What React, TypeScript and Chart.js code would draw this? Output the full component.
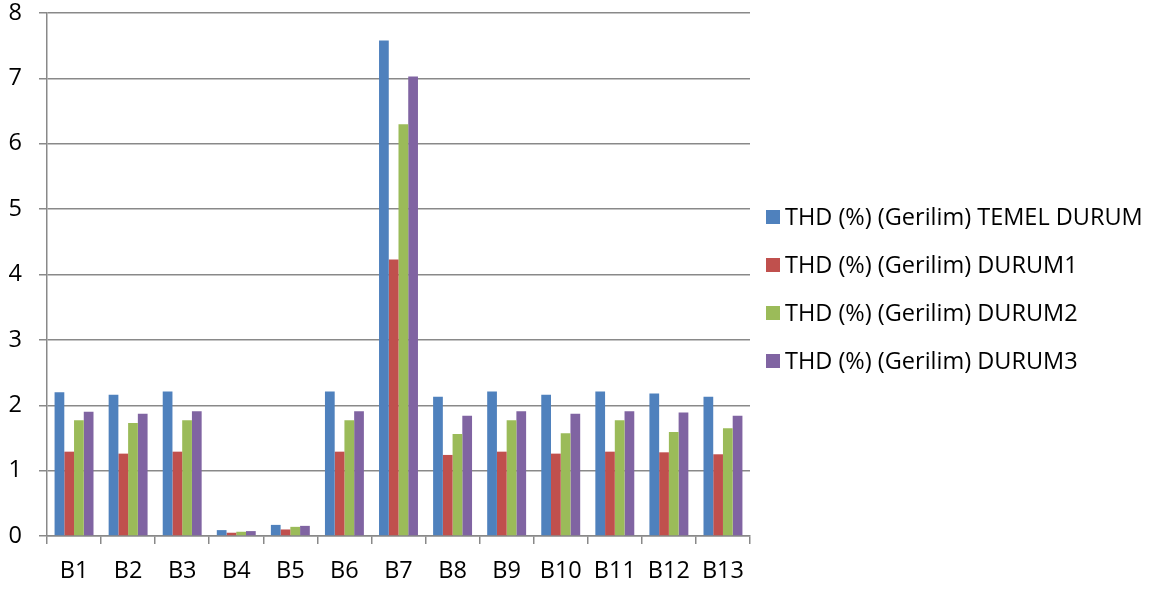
import React, { useEffect, useRef } from "react";
import { Chart, registerables } from "chart.js";

Chart.register(...registerables);

const categories = ["B1", "B2", "B3", "B4", "B5", "B6", "B7", "B8", "B9", "B10", "B11", "B12", "B13"];
const seriesNames = [
  "THD (%) (Gerilim) TEMEL DURUM",
  "THD (%) (Gerilim) DURUM1",
  "THD (%) (Gerilim) DURUM2",
  "THD (%) (Gerilim) DURUM3",
];
const temelDurum = [2.2, 2.16, 2.21, 0.09, 0.17, 2.21, 7.58, 2.13, 2.21, 2.16, 2.21, 2.18, 2.13];
const durum1 = [1.29, 1.26, 1.29, 0.05, 0.1, 1.29, 4.23, 1.24, 1.29, 1.26, 1.29, 1.28, 1.25];
const durum2 = [1.77, 1.73, 1.77, 0.065, 0.14, 1.77, 6.3, 1.56, 1.77, 1.57, 1.77, 1.59, 1.65];
const durum3 = [1.9, 1.87, 1.91, 0.075, 0.155, 1.91, 7.03, 1.84, 1.91, 1.87, 1.91, 1.89, 1.84];
const colors = ["#4F81BD", "#C0504D", "#9BBB59", "#8064A2"];

const FONT = "'Open Sans', 'Liberation Sans', sans-serif";
const FONT_SIZE = 23.5;
const GRID = "#898989";

const sideLegend = {
  id: "sideLegend",
  afterDraw(chart: any) {
    const { ctx, chartArea } = chart;
    const box = 14;
    const rowGap = 48;
    const x0 = chartArea.right + 16;
    const n = chart.data.datasets.length;
    const yMid = chartArea.top + 276;
    const yStart = yMid - ((n - 1) * rowGap) / 2;
    ctx.save();
    ctx.font = `${FONT_SIZE}px ${FONT}`;
    ctx.textBaseline = "middle";
    ctx.textAlign = "left";
    chart.data.datasets.forEach((ds: any, i: number) => {
      const y = yStart + i * rowGap;
      ctx.fillStyle = ds.backgroundColor;
      ctx.fillRect(x0, y - box / 2, box, box);
      ctx.fillStyle = "#000";
      ctx.fillText(ds.label, x0 + box + 5, y + 1);
    });
    ctx.restore();
  },
};

export default function App() {
  const ref = useRef<HTMLCanvasElement | null>(null);
  useEffect(() => {
    if (!ref.current) return;
    const values = [temelDurum, durum1, durum2, durum3];
    const chart = new Chart(ref.current, {
      type: "bar",
      data: {
        labels: categories,
        datasets: values.map((v, i) => ({
          label: seriesNames[i],
          data: v,
          backgroundColor: colors[i],
          borderWidth: 0,
          categoryPercentage: 0.72,
          barPercentage: 1,
        })),
      },
      options: {
        animation: false,
        responsive: false,
        maintainAspectRatio: false,
        layout: { padding: { top: 0, left: 8.5, right: 412, bottom: 5 } },
        plugins: {
          tooltip: { enabled: false },
          legend: { display: false },
        },
        scales: {
          x: {
            offset: true,
            afterFit: (s: any) => {
              s.paddingLeft = 0;
              s.paddingRight = 0;
              s.height = 49;
            },
            grid: {
              offset: true,
              drawOnChartArea: false,
              drawTicks: true,
              tickLength: 8,
              color: GRID,
              lineWidth: 1.5,
            },
            border: { color: GRID, width: 1.5 },
            ticks: { color: "#000", font: { family: FONT, size: FONT_SIZE }, padding: 13, maxRotation: 0 },
          },
          y: {
            min: 0,
            max: 8,
            afterFit: (s: any) => {
              s.paddingTop = 13;
              s.paddingBottom = 0;
              s.width = 38.5;
            },
            grid: { color: GRID, lineWidth: 1.5, tickLength: 8, drawTicks: true },
            border: { color: GRID, width: 1.5 },
            ticks: { stepSize: 1, color: "#000", font: { family: FONT, size: FONT_SIZE }, padding: 17 },
          },
        },
      },
      plugins: [sideLegend],
    });
    return () => chart.destroy();
  }, []);
  return (
    <div style={{ position: "absolute", left: 0, top: 0, width: 1162, height: 590, background: "#fff" }}>
      <canvas ref={ref} width={1162} height={590} />
    </div>
  );
}
